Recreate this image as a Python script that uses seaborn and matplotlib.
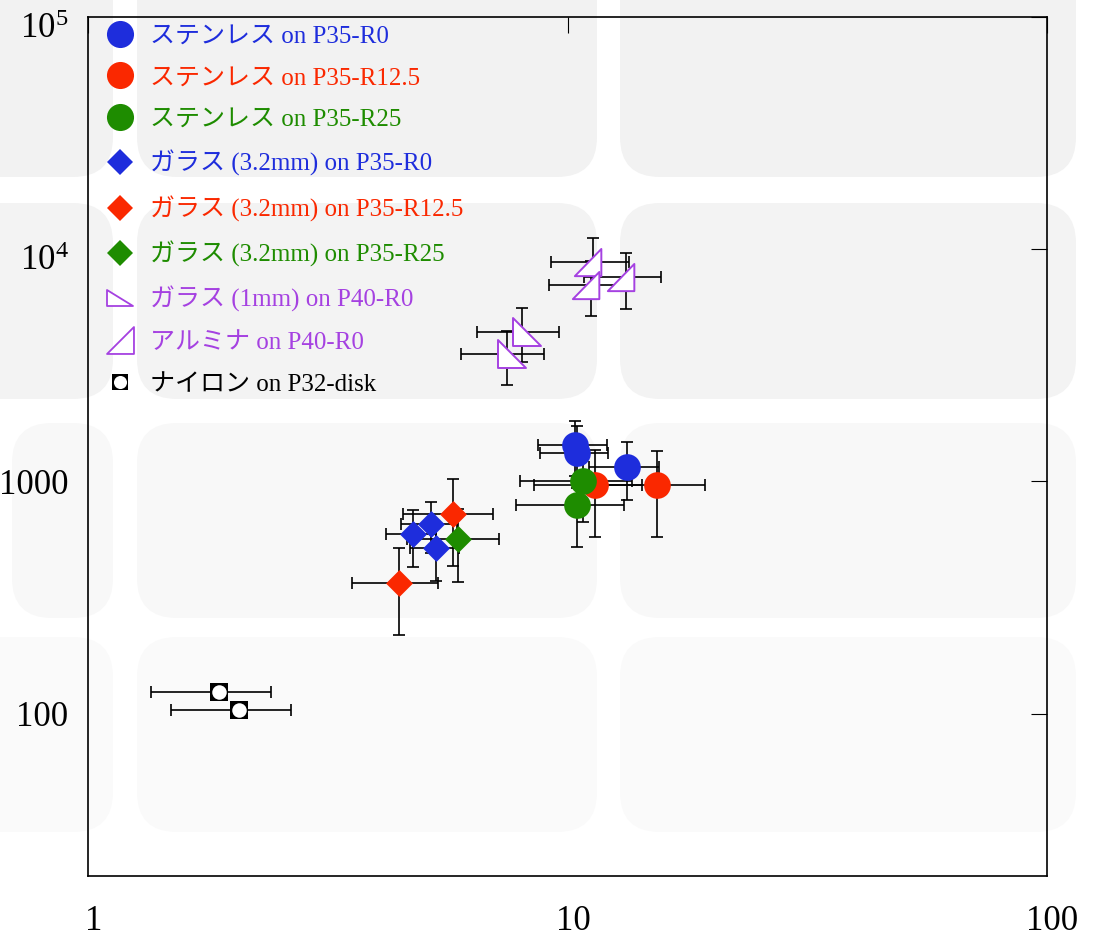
import matplotlib
matplotlib.use("Agg")
import matplotlib.pyplot as plt
import seaborn as sns
from matplotlib.path import Path
from matplotlib.patches import FancyBboxPatch
from matplotlib.lines import Line2D
from matplotlib.font_manager import FontProperties
from matplotlib.ticker import NullLocator
from matplotlib.transforms import ScaledTranslation

# ---------------- data ----------------
sus_r0_x = [10.37, 10.47, 13.31]
sus_r0_y = [1441, 1332, 1156]
sus_r0_xerr = [1.7, 1.7, 2.2]
sus_r0_yerr = [386, 395, 325]

sus_r125_x = [11.41, 15.35]
sus_r125_y = [970, 964]
sus_r125_xerr = [2.9, 4.0]
sus_r125_yerr = [394, 390]

sus_r25_x = [10.79, 10.45]
sus_r25_y = [1009, 788]
sus_r25_xerr = [2.83, 2.65]
sus_r25_yerr = [340, 268]

gl32_r0_x = [4.755, 5.185, 5.32]
gl32_r0_y = [592, 654, 518]
gl32_r0_xerr = [0.57, 0.7, 0.63]
gl32_r0_yerr = [163, 161, 144]

gl32_r125_x = [4.46, 5.757]
gl32_r125_y = [367, 727]
gl32_r125_xerr = [0.9, 1.22]
gl32_r125_yerr = [148, 293]

gl32_r25_x = [5.92]
gl32_r25_y = [564]
gl32_r25_xerr = [1.29]
gl32_r25_yerr = [194]

gl1_x = [8.03, 7.47]
gl1_y = [4416, 3532]
gl1_xerr = [1.57, 1.46]
gl1_yerr = [1160, 935]

alu_x = [11.32, 11.18, 13.24]
alu_y = [8770, 7047, 7559]
alu_xerr = [2.1, 2.03, 2.4]
alu_yerr = [2450, 1875, 2050]

nylon_x = [1.88, 2.067]
nylon_y = [124.5, 104.2]
nylon_xerr = [0.525, 0.58]

labels = [
    "ステンレス on P35-R0",
    "ステンレス on P35-R12.5",
    "ステンレス on P35-R25",
    "ガラス (3.2mm) on P35-R0",
    "ガラス (3.2mm) on P35-R12.5",
    "ガラス (3.2mm) on P35-R25",
    "ガラス (1mm) on P40-R0",
    "アルミナ on P40-R0",
    "ナイロン on P32-disk",
]

x_ticks = [1, 10, 100]
x_ticklabels = ["1", "10", "100"]
y_ticks = [100, 1000, 1e4, 1e5]
y_ticklabels = ["100", "1000", "$10^4$", "$10^5$"]

BLUE = "#1e2ddc"
RED = "#fa2800"
GREEN = "#1e8c00"
PURPLE = "#a541e1"

# ---------------- style ----------------
sns.set_theme(style="white")
plt.rcParams["font.family"] = ["Liberation Serif", "Noto Sans CJK JP"]
plt.rcParams["mathtext.fontset"] = "custom"
plt.rcParams["mathtext.rm"] = "Liberation Serif"
plt.rcParams["mathtext.it"] = "Liberation Serif:italic"

W, H, DPI = 1103, 938, 100
fig = plt.figure(figsize=(W / DPI, H / DPI), dpi=DPI)
fig.patch.set_facecolor("white")

# soft rounded background tiles
rows = [(-60, 177, "#f2f2f2"), (203, 399, "#f3f3f3"),
        (423, 618, "#f8f8f8"), (637, 832, "#fafafa")]
cols = [(-60, 113), (137, 597), (620, 1076)]
for top, bot, fc in rows:
    for left, right in cols:
        if top == 423 and left < 0:
            left = 12
        fig.add_artist(FancyBboxPatch(
            (left / DPI, (H - bot) / DPI), (right - left) / DPI, (bot - top) / DPI,
            boxstyle="round,pad=0,rounding_size=0.4",
            transform=fig.dpi_scale_trans, fc=fc, ec="none", zorder=-1))

ax = fig.add_axes([88 / W, 1 - 876 / H, (1047 - 88) / W, (876 - 17) / H])
ax.set_facecolor("none")
ax.set_xscale("log")
ax.set_yscale("log")
ax.set_xlim(1, 100)
ax.set_ylim(20, 1e5)

# marker shapes: right triangles
tri_glass = Path([(-8.4, 13.4), (-8.4, -13.3), (18.3, -13.3), (-8.4, 13.4)],
                 [Path.MOVETO, Path.LINETO, Path.LINETO, Path.CLOSEPOLY])
tri_alu = Path([(-18.3, -13.4), (7.7, 13.3), (7.7, -13.4), (-18.3, -13.4)],
               [Path.MOVETO, Path.LINETO, Path.LINETO, Path.CLOSEPOLY])
tri_glass_leg = Path([(-13.5, 8.5), (-13.5, -8.5), (13.5, -8.5), (-13.5, 8.5)],
                     [Path.MOVETO, Path.LINETO, Path.LINETO, Path.CLOSEPOLY])
tri_alu_leg = Path([(-13.5, -13.5), (13.5, 13.5), (13.5, -13.5), (-13.5, -13.5)],
                   [Path.MOVETO, Path.LINETO, Path.LINETO, Path.CLOSEPOLY])

ebar_kw = dict(fmt="none", ecolor="black", elinewidth=1.2, capsize=4,
               capthick=1.2, zorder=2)

series = [
    (sus_r0_x, sus_r0_y, sus_r0_xerr, sus_r0_yerr, "o", 369, BLUE, BLUE, 0),
    (sus_r125_x, sus_r125_y, sus_r125_xerr, sus_r125_yerr, "o", 369, RED, RED, 0),
    (sus_r25_x, sus_r25_y, sus_r25_xerr, sus_r25_yerr, "o", 369, GREEN, GREEN, 0),
    (gl32_r0_x, gl32_r0_y, gl32_r0_xerr, gl32_r0_yerr, "D", 188, BLUE, BLUE, 0),
    (gl32_r125_x, gl32_r125_y, gl32_r125_xerr, gl32_r125_yerr, "D", 188, RED, RED, 0),
    (gl32_r25_x, gl32_r25_y, gl32_r25_xerr, gl32_r25_yerr, "D", 188, GREEN, GREEN, 0),
    (gl1_x, gl1_y, gl1_xerr, gl1_yerr, tri_glass, 720, "white", PURPLE, 1.4),
    (alu_x, alu_y, alu_xerr, alu_yerr, tri_alu, 720, "white", PURPLE, 1.4),
]

for x, y, xe, ye, mk, s, fc, ec, lw in series:
    ax.errorbar(x, y, xerr=xe, yerr=ye, **ebar_kw)
    sns.scatterplot(x=x, y=y, marker=mk, s=s, color=fc, edgecolor=ec,
                    linewidth=lw, ax=ax, zorder=3, legend=False)

# nylon: black square with white disk
ax.errorbar(nylon_x, nylon_y, xerr=nylon_xerr, **ebar_kw)
sns.scatterplot(x=nylon_x, y=nylon_y, marker="s", s=169, color="black",
                edgecolor="black", linewidth=0, ax=ax, zorder=3, legend=False)
sns.scatterplot(x=nylon_x, y=nylon_y, marker="o", s=109, color="white",
                edgecolor="white", linewidth=0, ax=ax, zorder=4, legend=False)

# axes frame and ticks
for sp in ax.spines.values():
    sp.set_visible(True)
    sp.set_color("black")
    sp.set_linewidth(1.2)
ax.set_xticks(x_ticks, labels=x_ticklabels)
ax.set_yticks(y_ticks, labels=y_ticklabels)
ax.xaxis.set_minor_locator(NullLocator())
ax.yaxis.set_minor_locator(NullLocator())
ax.tick_params(which="major", direction="in", top=True, right=True,
               length=11.5, width=0.8, color="black", labelsize=25,
               labelcolor="black")
ax.tick_params(axis="x", pad=21)
ax.tick_params(axis="y", pad=14)
ax.set_xlabel("")
ax.set_ylabel("")

# nudge the power-of-ten labels so the mantissa sits level with its tick
for lbl in ax.get_yticklabels():
    if "^" in lbl.get_text():
        lbl.set_transform(lbl.get_transform()
                          + ScaledTranslation(0, -6 / 72, fig.dpi_scale_trans))
for lbl in ax.get_xticklabels():
    lbl.set_transform(lbl.get_transform()
                      + ScaledTranslation(4 / 72, 0, fig.dpi_scale_trans))

# legend
handles = [
    Line2D([], [], ls="none", marker="o", ms=19.5, mfc=BLUE, mec=BLUE, mew=0),
    Line2D([], [], ls="none", marker="o", ms=19.5, mfc=RED, mec=RED, mew=0),
    Line2D([], [], ls="none", marker="o", ms=19.5, mfc=GREEN, mec=GREEN, mew=0),
    Line2D([], [], ls="none", marker="D", ms=13.7, mfc=BLUE, mec=BLUE, mew=0),
    Line2D([], [], ls="none", marker="D", ms=13.7, mfc=RED, mec=RED, mew=0),
    Line2D([], [], ls="none", marker="D", ms=13.7, mfc=GREEN, mec=GREEN, mew=0),
    Line2D([], [], ls="none", marker=tri_glass_leg, ms=19.4, mfc="white",
           mec=PURPLE, mew=1.3),
    Line2D([], [], ls="none", marker=tri_alu_leg, ms=19.4, mfc="white",
           mec=PURPLE, mew=1.3),
    (Line2D([], [], ls="none", marker="s", ms=12, mfc="black", mec="black", mew=0),
     Line2D([], [], ls="none", marker="o", ms=9.4, mfc="white", mec="white", mew=0)),
]
leg_colors = [BLUE, RED, GREEN, BLUE, RED, GREEN, PURPLE, PURPLE, "black"]
leg = ax.legend(handles, labels, loc="upper left",
                bbox_to_anchor=(105 / W, 1 - 25 / H),
                bbox_transform=fig.transFigure,
                frameon=False, borderpad=0, borderaxespad=0,
                handlelength=1.2, handletextpad=0.6, labelspacing=0.77,
                prop=FontProperties(family=["Liberation Serif", "Noto Sans CJK JP"],
                                    size=18),
                labelcolor=leg_colors)

fig.savefig("out.png", dpi=DPI)
